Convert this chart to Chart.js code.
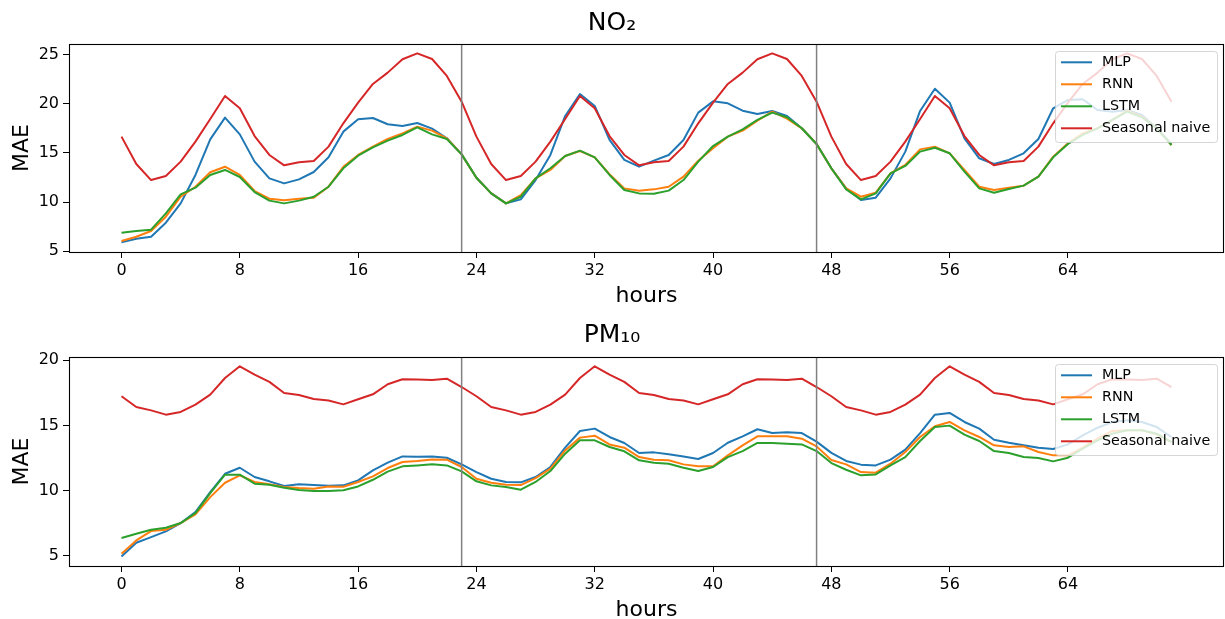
<!DOCTYPE html>
<html>
<head>
<meta charset="utf-8">
<script src="https://cdn.jsdelivr.net/npm/chart.js@4/dist/chart.umd.min.js"></script>
<style>
  html, body { margin: 0; padding: 0; background: #ffffff; overflow: hidden; width: 1225px; height: 619px; }
  canvas { position: absolute; left: 0; }
  #c1 { top: 0px; }
  #c2 { top: 314px; }
</style>
</head>
<body>
<canvas id="c1" width="1225" height="310"></canvas>
<canvas id="c2" width="1225" height="310"></canvas>
<script>
// ---- categories (hour index 0..71) ----
const hours = [
  0,1,2,3,4,5,6,7,8,9,10,11,12,13,14,15,16,17,18,19,20,21,22,23,
  24,25,26,27,28,29,30,31,32,33,34,35,36,37,38,39,40,41,42,43,44,45,46,47,
  48,49,50,51,52,53,54,55,56,57,58,59,60,61,62,63,64,65,66,67,68,69,70,71
];
const seriesNames = ["MLP", "RNN", "LSTM", "Seasonal naive"];
const xTickValues = [0, 8, 16, 24, 32, 40, 48, 56, 64];
const dayBoundaries = [23, 47];

// ---- NO2 ----
const no2MLP = [
  5.88, 6.26, 6.46, 7.89, 9.86, 12.76, 16.39, 18.61, 16.9, 14.12, 12.41, 11.9, 12.31, 13.06, 14.56, 17.18, 18.44, 18.57, 17.93, 17.76, 18.06, 17.48, 16.5, 14.86,
  12.48, 10.88, 9.86, 10.27, 12.24, 14.8, 18.78, 21.02, 19.8, 16.33, 14.29, 13.61, 14.22, 14.8, 16.33, 19.12, 20.27, 20.07, 19.32, 18.98, 19.29, 18.78, 17.52, 15.92,
  13.44, 11.39, 10.2, 10.44, 12.41, 15.14, 19.29, 21.56, 20.14, 16.5, 14.46, 13.88, 14.29, 14.97, 16.43, 19.56, 20.41, 20.48, 19.39, 19.22, 19.39, 18.88, 17.52, 15.92
];
const no2RNN = [
  6.02, 6.46, 7.04, 8.5, 10.54, 11.56, 13.03, 13.6, 12.76, 11.12, 10.34, 10.17, 10.34, 10.44, 11.56, 13.6, 14.8, 15.65, 16.43, 17.0, 17.69, 17.28, 16.5, 14.86,
  12.48, 10.88, 9.86, 10.71, 12.41, 13.27, 14.69, 15.2, 14.56, 12.83, 11.39, 11.16, 11.29, 11.56, 12.59, 14.22, 15.48, 16.67, 17.28, 18.3, 19.22, 18.5, 17.52, 15.92,
  13.44, 11.39, 10.54, 10.95, 12.93, 13.78, 15.37, 15.65, 14.97, 13.27, 11.56, 11.22, 11.46, 11.67, 12.59, 14.63, 15.99, 17.0, 17.52, 18.37, 19.32, 18.71, 17.52, 15.82
];
const no2LSTM = [
  6.87, 7.04, 7.18, 8.84, 10.78, 11.46, 12.76, 13.27, 12.55, 11.02, 10.14, 9.86, 10.14, 10.54, 11.56, 13.44, 14.73, 15.58, 16.26, 16.84, 17.62, 16.9, 16.43, 14.86,
  12.48, 10.88, 9.86, 10.54, 12.41, 13.44, 14.69, 15.24, 14.56, 12.76, 11.22, 10.88, 10.85, 11.16, 12.24, 14.12, 15.71, 16.67, 17.41, 18.37, 19.12, 18.64, 17.52, 15.92,
  13.44, 11.29, 10.27, 10.88, 12.93, 13.68, 15.14, 15.54, 14.97, 13.1, 11.39, 10.95, 11.33, 11.67, 12.59, 14.56, 15.92, 16.84, 17.52, 18.37, 19.22, 18.64, 17.52, 15.82
];
const no2Naive = [
  16.67, 13.88, 12.24, 12.65, 14.12, 16.16, 18.47, 20.82, 19.56, 16.73, 14.8, 13.74, 14.05, 14.18, 15.65, 18.03, 20.14, 22.04, 23.2, 24.56, 25.17, 24.59, 22.86, 20.24,
  16.67, 13.88, 12.24, 12.65, 14.12, 16.16, 18.47, 20.82, 19.56, 16.73, 14.8, 13.74, 14.05, 14.18, 15.65, 18.03, 20.14, 22.04, 23.2, 24.56, 25.17, 24.59, 22.86, 20.24,
  16.67, 13.88, 12.24, 12.65, 14.12, 16.16, 18.47, 20.82, 19.56, 16.73, 14.8, 13.74, 14.05, 14.18, 15.65, 18.03, 20.14, 22.04, 23.2, 24.56, 25.17, 24.59, 22.86, 20.24
];
const no2YTicks = [5, 10, 15, 20, 25];

// ---- PM10 ----
const pmMLP = [
  4.96, 6.01, 6.44, 6.88, 7.52, 8.36, 9.9, 11.3, 11.76, 11.05, 10.72, 10.36, 10.49, 10.43, 10.38, 10.41, 10.79, 11.56, 12.15, 12.63, 12.61, 12.63, 12.53, 12.02,
  11.43, 10.92, 10.67, 10.64, 11.05, 11.82, 13.3, 14.58, 14.76, 14.12, 13.66, 12.89, 12.94, 12.79, 12.63, 12.43, 12.89, 13.68, 14.17, 14.71, 14.42, 14.48, 14.42, 13.76,
  12.9, 12.28, 12.0, 11.94, 12.38, 13.15, 14.42, 15.83, 15.96, 15.27, 14.76, 13.91, 13.68, 13.48, 13.3, 13.2, 13.55, 14.25, 14.83, 15.27, 15.4, 15.27, 14.88, 14.12
];
const pmRNN = [
  5.17, 6.19, 6.91, 7.01, 7.52, 8.18, 9.51, 10.61, 11.18, 10.67, 10.49, 10.28, 10.2, 10.15, 10.33, 10.31, 10.67, 11.1, 11.74, 12.2, 12.28, 12.4, 12.38, 11.82,
  10.92, 10.61, 10.46, 10.43, 10.97, 11.69, 13.09, 14.07, 14.22, 13.55, 13.3, 12.58, 12.38, 12.33, 12.02, 11.87, 11.87, 12.71, 13.48, 14.17, 14.17, 14.17, 13.99, 13.4,
  12.36, 12.02, 11.43, 11.38, 12.07, 12.97, 14.12, 14.94, 15.27, 14.63, 14.12, 13.48, 13.35, 13.4, 12.97, 12.71, 12.71, 13.3, 13.99, 14.58, 14.63, 14.63, 14.32, 13.73
];
const pmLSTM = [
  6.37, 6.7, 7.01, 7.16, 7.52, 8.29, 9.82, 11.23, 11.23, 10.54, 10.46, 10.23, 10.05, 9.97, 9.97, 10.03, 10.33, 10.84, 11.46, 11.87, 11.94, 12.02, 11.94, 11.48,
  10.72, 10.41, 10.28, 10.08, 10.67, 11.51, 12.84, 13.86, 13.86, 13.35, 13.02, 12.33, 12.15, 12.07, 11.76, 11.51, 11.82, 12.58, 13.04, 13.66, 13.66, 13.61, 13.55, 13.04,
  12.12, 11.61, 11.18, 11.25, 11.94, 12.58, 13.81, 14.88, 14.99, 14.3, 13.81, 13.04, 12.89, 12.58, 12.51, 12.25, 12.53, 13.22, 13.86, 14.37, 14.63, 14.63, 14.37, 13.73
];
const pmNaive = [
  17.24, 16.42, 16.16, 15.83, 16.04, 16.6, 17.37, 18.64, 19.54, 18.9, 18.34, 17.49, 17.34, 17.03, 16.91, 16.62, 17.01, 17.39, 18.16, 18.54, 18.52, 18.49, 18.59, 17.95,
  17.24, 16.42, 16.16, 15.83, 16.04, 16.6, 17.37, 18.64, 19.54, 18.9, 18.34, 17.49, 17.34, 17.03, 16.91, 16.62, 17.01, 17.39, 18.16, 18.54, 18.52, 18.49, 18.59, 17.95,
  17.24, 16.42, 16.16, 15.83, 16.04, 16.6, 17.37, 18.64, 19.54, 18.9, 18.34, 17.49, 17.34, 17.03, 16.91, 16.62, 17.01, 17.39, 18.16, 18.54, 18.52, 18.49, 18.59, 17.95
];
const pmYTicks = [5, 10, 15, 20];

// ---- styling ----
const colors = ["#1f77b4", "#ff7f0e", "#2ca02c", "#d62728"];
Chart.defaults.font.family = "'DejaVu Sans', sans-serif";
Chart.defaults.color = "#000000";

const decorPlugin = {
  id: "decor",
  afterDatasetsDraw(chart) {
    const ctx = chart.ctx;
    const area = chart.chartArea;
    const xs = chart.scales.x;
    ctx.save();
    // day boundary lines
    ctx.strokeStyle = "#808080";
    ctx.lineWidth = 1.5;
    dayBoundaries.forEach(d => {
      const px = xs.getPixelForValue(d);
      ctx.beginPath();
      ctx.moveTo(px, area.top);
      ctx.lineTo(px, area.bottom);
      ctx.stroke();
    });
    // axes box
    ctx.strokeStyle = "#000000";
    ctx.lineWidth = 1.1;
    ctx.strokeRect(Math.round(area.left) + 0.5, Math.round(area.top) + 0.5,
                   Math.round(area.right) - Math.round(area.left) - 1,
                   Math.round(area.bottom) - Math.round(area.top));
    // legend
    const bw = 162, bh = 91;
    const bx = area.right - 7 - bw;
    const by = area.top + 7;
    ctx.beginPath();
    if (ctx.roundRect) ctx.roundRect(bx + 0.5, by + 0.5, bw, bh, 3);
    else ctx.rect(bx + 0.5, by + 0.5, bw, bh);
    ctx.fillStyle = "rgba(255,255,255,0.8)";
    ctx.fill();
    ctx.strokeStyle = "rgba(204,204,204,0.8)";
    ctx.lineWidth = 1;
    ctx.stroke();
    ctx.font = "14.3px 'DejaVu Sans'";
    ctx.textBaseline = "middle";
    ctx.textAlign = "left";
    chart.data.datasets.forEach((ds, i) => {
      const cy = by + 11.3 + i * 22;
      ctx.strokeStyle = ds.borderColor;
      ctx.lineWidth = 2;
      ctx.beginPath();
      ctx.moveTo(bx + 6, cy);
      ctx.lineTo(bx + 37, cy);
      ctx.stroke();
      ctx.fillStyle = "#000000";
      ctx.fillText(ds.label, bx + 47, cy);
    });
    ctx.restore();
  }
};

function makeChart(canvasId, titleText, series, yMin, yMax, yTicks, titlePad) {
  const datasets = series.map((vals, i) => ({
    label: seriesNames[i],
    data: vals.map((v, k) => ({ x: hours[k], y: v })),
    borderColor: colors[i],
    backgroundColor: colors[i],
    borderWidth: 2,
    pointRadius: 0,
    tension: 0,
    fill: false,
    borderJoinStyle: "round",
    order: 4 - i
  }));
  return new Chart(document.getElementById(canvasId), {
    type: "line",
    data: { datasets },
    plugins: [decorPlugin],
    options: {
      responsive: false,
      animation: false,
      devicePixelRatio: 1,
      layout: { padding: { left: 0, right: 1, top: 0, bottom: 0 } },
      plugins: {
        legend: { display: false },
        tooltip: { enabled: false },
        title: {
          display: true,
          text: titleText,
          color: "#000000",
          font: { size: 25, weight: "normal" },
          padding: titlePad
        }
      },
      scales: {
        x: {
          type: "linear",
          min: -3.55,
          max: 74.55,
          afterBuildTicks: s => { s.ticks = xTickValues.map(v => ({ value: v })); },
          afterFit: s => { s.height = 58; },
          ticks: { font: { size: 16 }, color: "#000000", padding: 3, autoSkip: false, maxRotation: 0 },
          grid: { display: true, drawOnChartArea: false, drawTicks: true, tickLength: 6, color: "#000000", tickWidth: 1 },
          border: { display: false },
          title: { display: true, text: "hours", color: "#000000", font: { size: 22 }, padding: { top: 0, bottom: 0.4 } }
        },
        y: {
          type: "linear",
          min: yMin,
          max: yMax,
          afterBuildTicks: s => { s.ticks = yTicks.map(v => ({ value: v })); },
          afterFit: s => { s.width = 69; },
          ticks: { font: { size: 16 }, color: "#000000", padding: 4, autoSkip: false },
          grid: { display: true, drawOnChartArea: false, drawTicks: true, tickLength: 6, color: "#000000", tickWidth: 1 },
          border: { display: false },
          title: { display: true, text: "MAE", color: "#000000", font: { size: 22 }, padding: { top: 9, bottom: 0 } }
        }
      }
    }
  });
}

makeChart("c1", "NO₂", [no2MLP, no2RNN, no2LSTM, no2Naive], 4.9, 26.12, no2YTicks, { top: 8.4, bottom: 5.6 });
makeChart("c2", "PM₁₀", [pmMLP, pmRNN, pmLSTM, pmNaive], 4.23, 20.25, pmYTicks, { top: 6.4, bottom: 6.6 });
</script>
</body>
</html>
